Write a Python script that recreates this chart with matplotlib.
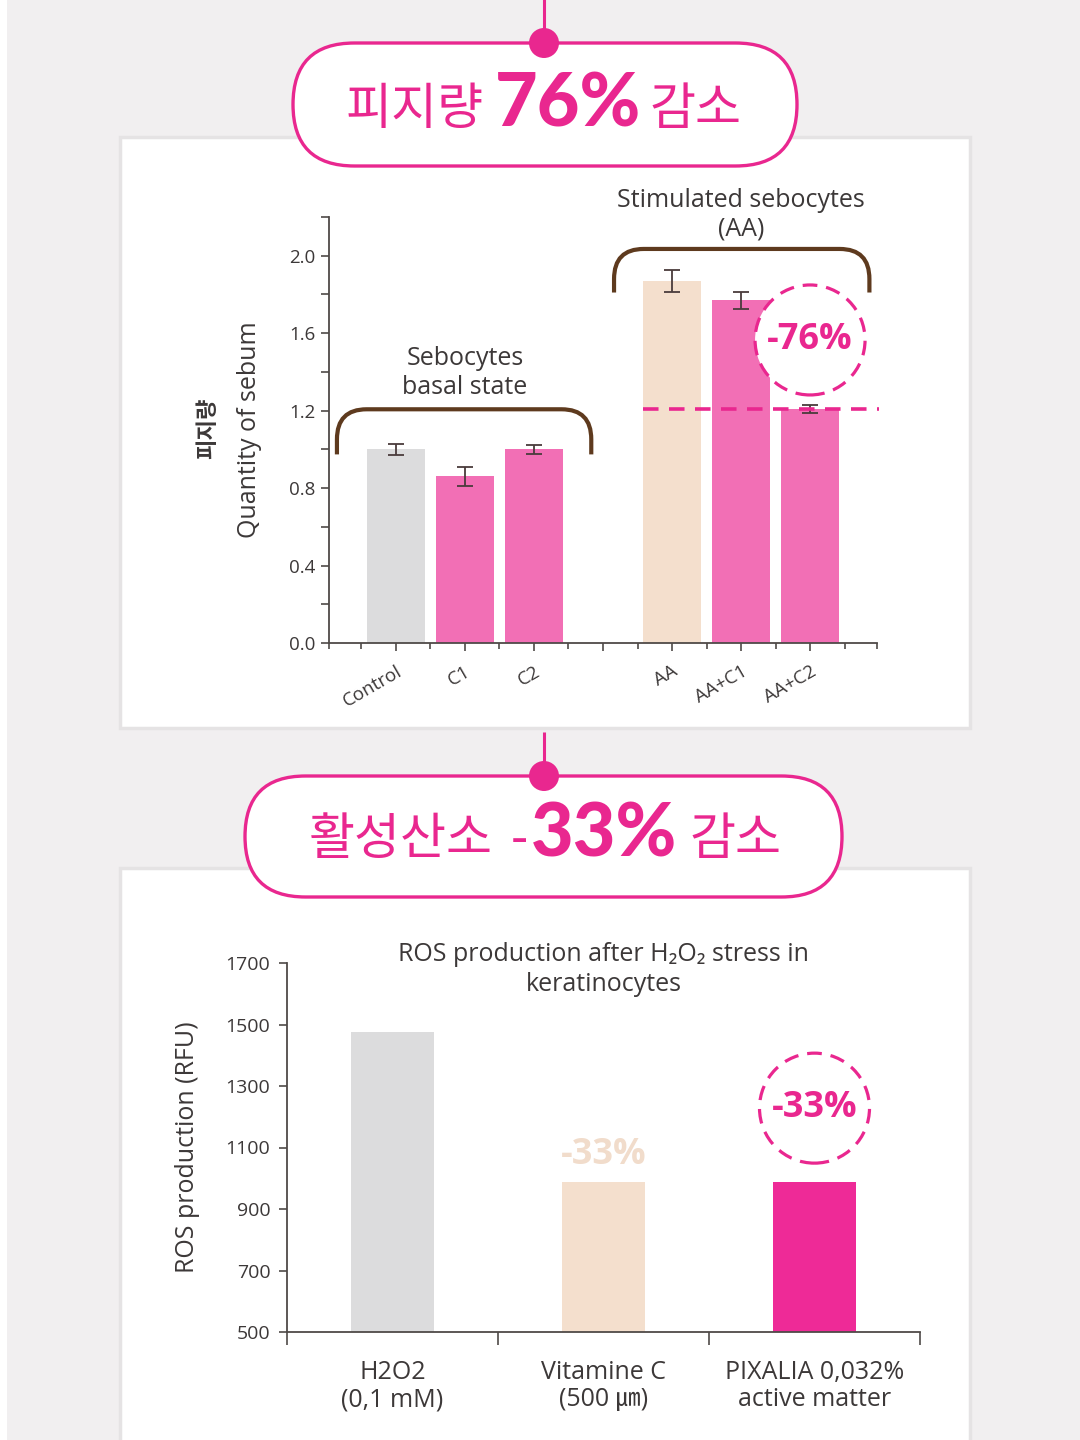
import numpy as np
import matplotlib
matplotlib.use("Agg")
import matplotlib.pyplot as plt
import matplotlib.transforms as mtransforms
from matplotlib.patches import FancyBboxPatch, Rectangle, Circle, PathPatch
from matplotlib.path import Path

plt.rcParams["font.family"] = ["Open Sans", "Noto Sans CJK KR", "DejaVu Sans"]

# --- data -------------------------------------------------------------
sebum_labels = ["Control", "C1", "C2", "AA", "AA+C1", "AA+C2"]
sebum_pos = [0, 1, 2, 4, 5, 6]
sebum_values = [1.00, 0.86, 1.00, 1.87, 1.77, 1.21]
sebum_err = [0.03, 0.05, 0.025, 0.055, 0.045, 0.02]
sebum_colors = ["#dcdcdd", "#f26fb5", "#f26fb5", "#f4dfcd", "#f26fb5", "#f26fb5"]

ros_labels = ["H2O2\n(0,1 mM)", "Vitamine C\n(500 ㎛)", "PIXALIA 0,032%\nactive matter"]
ros_values = [1475, 988, 988]
ros_colors = ["#dcdcdd", "#f4dfcd", "#ee2a97"]

PINK = "#e9278f"
BROWN = "#5e3a1e"
TEXT = "#3c3838"
AXIS = "#4f4a48"
W, H = 1080, 1440


def fig_rect(x0, y0, x1, y1):
    return [x0 / W, 1 - y1 / H, (x1 - x0) / W, (y1 - y0) / H]


fig = plt.figure(figsize=(W / 100, H / 100), dpi=100)
fig.patch.set_facecolor("white")

# background, panels, headers (pixel coordinates)
bg = fig.add_axes([0, 0, 1, 1], zorder=0)
bg.set_xlim(0, W)
bg.set_ylim(H, 0)
bg.axis("off")
bg.add_patch(Rectangle((7, 0), W, H, facecolor="#f1eff0", edgecolor="none"))
for top, bottom in [(137, 728), (868, 1460)]:
    bg.add_patch(Rectangle((120, top), 850, bottom - top, facecolor="white",
                           edgecolor="#e5e3e4", lw=2.5))


def header(y0, y1, x0, x1, line_top, parts):
    bg.plot([544, 544], [line_top, y0], color=PINK, lw=2.2, solid_capstyle="butt")
    h = y1 - y0
    bg.add_patch(FancyBboxPatch((x0, y0), x1 - x0, h,
                                boxstyle=f"round,pad=0,rounding_size={h / 2}",
                                facecolor="white", edgecolor=PINK, lw=2.4))
    bg.add_patch(Circle((544, y0), 15, facecolor=PINK, edgecolor="none", zorder=5))
    for txt, x, y, size, weight in parts:
        fam = ["Lato", "Noto Sans CJK KR"] if weight == "black" else ["Noto Sans CJK KR"]
        bg.text(x, y, txt, ha="center", va="center", fontsize=size, color=PINK,
                fontweight=weight, family=fam)


header(43, 166, 293, 797, -5, [
    ("피지량", 415, 110, 36, "normal"),
    ("76%", 568, 105, 53, "black"),
    ("감소", 696, 110, 36, "normal"),
])
header(776, 897, 245, 842, 732, [
    ("활성산소", 401, 840, 36, "normal"),
    ("-", 519, 840, 36, "normal"),
    ("33%", 604, 835, 53, "black"),
    ("감소", 735, 840, 36, "normal"),
])


def pixel_circle(ax, x, y, r):
    cx, cy = ax.transData.transform((x, y))
    c = Circle((0, 0), r, transform=mtransforms.Affine2D().translate(cx, cy),
               facecolor="white", edgecolor=PINK, lw=2.3,
               linestyle=(0, (4.6, 2.8)), clip_on=False, zorder=4)
    ax.add_patch(c)


def bracket(ax, x0, x1, ybot, ytop, rx, ry):
    verts = [(x0, ybot), (x0, ytop - ry), (x0, ytop), (x0 + rx, ytop),
             (x1 - rx, ytop), (x1, ytop), (x1, ytop - ry), (x1, ybot)]
    codes = [Path.MOVETO, Path.LINETO, Path.CURVE3, Path.CURVE3,
             Path.LINETO, Path.CURVE3, Path.CURVE3, Path.LINETO]
    ax.add_patch(PathPatch(Path(verts, codes), fill=False, edgecolor=BROWN,
                           lw=3, capstyle="butt", clip_on=False, zorder=3))


# --- top chart: sebum -------------------------------------------------
ax1 = fig.add_axes(fig_rect(329, 217, 877, 643), zorder=1)
ax1.patch.set_alpha(0)
ax1.bar(sebum_pos, sebum_values, width=0.84, color=sebum_colors, zorder=2)
ax1.errorbar(sebum_pos, sebum_values, yerr=sebum_err, fmt="none",
             ecolor="#4a3c3c", elinewidth=1.3, capsize=6, capthick=1.3, zorder=3)
ax1.set_xlim(-0.97, 6.97)
ax1.set_ylim(0, 2.2)
ax1.set_yticks(np.arange(0, 2.01, 0.4))
ax1.set_yticklabels([f"{v:.1f}" for v in np.arange(0, 2.01, 0.4)])
ax1.set_yticks(np.arange(0.2, 2.21, 0.4), minor=True)
ax1.set_xticks(sebum_pos + [3])
ax1.set_xticklabels(sebum_labels + [""], rotation=30, ha="right",
                    rotation_mode="anchor")
ax1.set_xticks(np.r_[-0.97, np.arange(-0.5, 6.6, 1), 6.97], minor=True)
for s in ["top", "right"]:
    ax1.spines[s].set_visible(False)
for s in ["left", "bottom"]:
    ax1.spines[s].set_color(AXIS)
    ax1.spines[s].set_linewidth(1.3)
ax1.tick_params(axis="both", which="both", color=AXIS, width=1.2, labelcolor=TEXT)
ax1.tick_params(axis="y", which="both", length=6, labelsize=13.5, pad=4)
ax1.tick_params(axis="x", which="major", length=6, labelsize=13.5, pad=8)
ax1.tick_params(axis="x", which="minor", length=4)

ax1.set_ylabel("Quantity of sebum", fontsize=18, color=TEXT)
ax1.yaxis.set_label_coords(-0.122, 0.5)
ax1.text(-0.222, 0.505, "피지량", transform=ax1.transAxes, rotation=90,
         ha="center", va="center", fontsize=16, color=TEXT,
         family=["Noto Sans CJK KR"], fontweight="bold")

bracket(ax1, -0.855, 2.83, 0.974, 1.207, 0.43, 0.155)
bracket(ax1, 3.16, 6.86, 1.81, 2.035, 0.43, 0.155)
ax1.text(1, 1.395, "Sebocytes\nbasal state", ha="center", va="center",
         fontsize=18, color=TEXT, linespacing=1.2)
ax1.text(5, 2.212, "Stimulated sebocytes\n(AA)", ha="center", va="center",
         fontsize=18, color=TEXT, linespacing=1.2, clip_on=False)

ax1.hlines(sebum_values[5], 3.58, 7.0, colors=PINK, lw=2.6,
           linestyles=(0, (4.3, 2.9)), zorder=5, clip_on=False)
pixel_circle(ax1, 6, 1.565, 55)
ax1.text(6, 1.565, "-76%", ha="center", va="center", fontsize=26,
         fontweight="bold", color=PINK, zorder=6)

# --- bottom chart: ROS ------------------------------------------------
ax2 = fig.add_axes(fig_rect(287, 963, 920, 1332), zorder=1)
ax2.patch.set_alpha(0)
ros_pos = np.arange(len(ros_values))
ax2.bar(ros_pos, ros_values, width=0.39, bottom=0, color=ros_colors, zorder=2)
ax2.set_xlim(-0.5, 2.5)
ax2.set_ylim(500, 1700)
ax2.set_yticks(np.arange(500, 1701, 200))
ax2.set_xticks(ros_pos)
ax2.set_xticklabels(ros_labels, linespacing=1.12)
ax2.set_xticks(np.arange(-0.5, 2.6, 1), minor=True)
for s in ["top", "right"]:
    ax2.spines[s].set_visible(False)
for s in ["left", "bottom"]:
    ax2.spines[s].set_color(AXIS)
    ax2.spines[s].set_linewidth(1.3)
ax2.tick_params(axis="both", which="both", color=AXIS, width=1.2, labelcolor=TEXT)
ax2.tick_params(axis="y", length=6, labelsize=14, pad=6)
ax2.tick_params(axis="x", which="major", length=0, labelsize=18, pad=20)
ax2.tick_params(axis="x", which="minor", length=9)

ax2.set_ylabel("ROS production (RFU)", fontsize=18, color=TEXT)
ax2.yaxis.set_label_coords(-0.137, 0.5)
ax2.text(0.5, 0.982, "ROS production after H₂O₂ stress in\nkeratinocytes",
         transform=ax2.transAxes, ha="center", va="center", fontsize=18,
         color=TEXT, linespacing=1.3)

ax2.text(1, 1075, "-33%", ha="center", va="center", fontsize=26,
         fontweight="bold", color="#f1dccb")
pixel_circle(ax2, 2, 1228, 55)
ax2.text(2, 1228, "-33%", ha="center", va="center", fontsize=26,
         fontweight="bold", color=PINK, zorder=6)

fig.savefig("out.png", dpi=100)
